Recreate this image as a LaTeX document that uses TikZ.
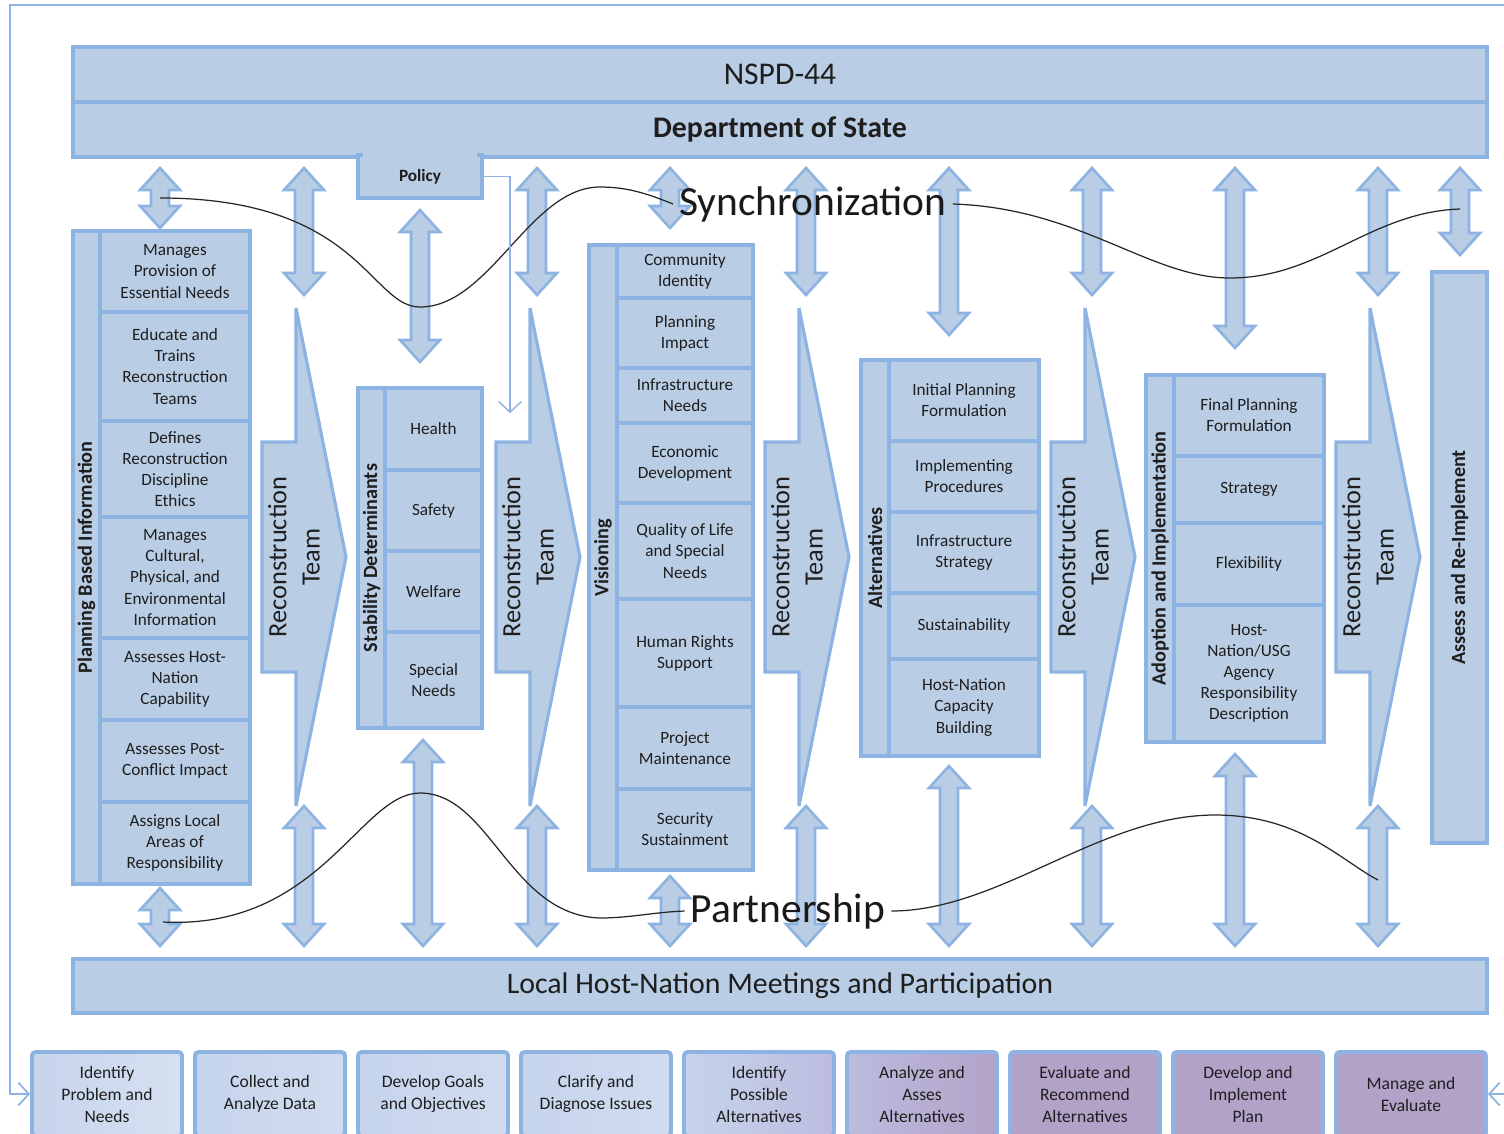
\documentclass[tikz,border=0pt]{standalone}
\usepackage{fontspec}
\setmainfont{Carlito}
\usetikzlibrary{arrows.meta}
\definecolor{ColLine}{RGB}{141,179,226}
\definecolor{ColFill}{RGB}{185,205,229}
\definecolor{ColText}{RGB}{30,30,30}
\definecolor{ColStepA}{RGB}{214,224,241}
\definecolor{ColStepB}{RGB}{198,212,236}
\definecolor{ColStepC}{RGB}{188,188,222}
\definecolor{ColStepD}{RGB}{179,162,200}
\newcommand{\px}{0.02cm}
\tikzstyle{Frame}=[draw=ColLine,fill=ColFill,line width=2.2pt,inner sep=1pt,align=center,text=ColText]
\tikzstyle{Cell}=[Frame,font=\fontsize{9.8}{12}\selectfont]
\tikzstyle{Strip}=[Frame,rotate=90,font=\bfseries\fontsize{11.5}{13}\selectfont]
\tikzstyle{PlanCell}=[Cell,minimum width=150*\px]
\tikzstyle{StabCell}=[Cell,minimum width=97*\px]
\tikzstyle{VisCell}=[Cell,minimum width=136*\px]
\tikzstyle{AltCell}=[Cell,minimum width=150*\px]
\tikzstyle{AdoptCell}=[Cell,minimum width=150*\px]
\tikzstyle{Banner}=[Frame,minimum width=1414*\px,minimum height=55*\px]
\tikzstyle{StepBox}=[draw=ColLine,line width=2.2pt,rounded corners=2pt,minimum width=150*\px,
minimum height=84*\px,align=center,text=ColText,font=\fontsize{10}{12.5}\selectfont]
\tikzstyle{DblArrow}=[draw=ColLine,fill=ColFill,line width=1.5pt]
\tikzstyle{TeamShape}=[draw=ColLine,fill=ColFill,line width=1.8pt]
\tikzstyle{TeamText}=[rotate=90,align=center,text=ColText,font=\fontsize{15}{19}\selectfont]
\tikzstyle{WaveLine}=[black!85,line width=0.7pt]
\tikzstyle{WaveText}=[text=black!90,font=\fontsize{23.6}{26}\selectfont]
\tikzstyle{LoopLine}=[ColLine,line width=1pt,-{Straight Barb[length=6pt,width=13pt]}]
\newcommand{\VArrow}[3]{\draw[DblArrow](#1,#2)--({#1+20},{#2+22})--({#1+9},{#2+22})--({#1+9},{#3-22})
  --({#1+20},{#3-22})--(#1,#3)--({#1-20},{#3-22})--({#1-9},{#3-22})--({#1-9},{#2+22})--({#1-20},{#2+22})--cycle;}
\newcommand{\TeamArrow}[2]{\draw[TeamShape](#1,442)--({#1+34},442)--({#1+34},308)--({#1+84},557)
  --({#1+34},806)--({#1+34},672)--(#1,672)--cycle;
  \node[TeamText](#2)at({#1+32},557){Reconstruction\\Team};}

\begin{document}
\begin{tikzpicture}[x=0.02cm,y=-0.02cm]
        \useasboundingbox(0,0)rectangle(1504,1133);
        \clip(0,0)rectangle(1504,1133);
        \coordinate(LoopTop)at(1504,5);
        \coordinate(LoopCorner)at(10,5);
        \coordinate(LoopLeft)at(10,1094);
        \coordinate(LoopRight)at(1504,1094);
        \coordinate(PolicyEnd)at(510,413);
        \coordinate(SyncStart)at(160,198);
        \coordinate(SyncEnd)at(1460,209);
        \coordinate(PartStart)at(163,922);
        \coordinate(PartEnd)at(1378,880);
        % top banners and policy tab
        \node[Banner,font=\fontsize{18}{22}\selectfont](nspd)at(780,74.5){NSPD-44};
        \node[Banner,font=\bfseries\fontsize{17}{20}\selectfont](dos)at(780,129.5){Department of State};
        \node[Frame,minimum width=124*\px,minimum height=43*\px,font=\bfseries\fontsize{9.8}{12}\selectfont](policy)at(420,176.5){Policy};
        \fill[ColFill](363,150)rectangle(477,160);
        % up/down arrows
        \VArrow{160}{168}{228}
        \VArrow{304}{168}{295}
        \VArrow{420}{210}{362}
        \VArrow{537}{168}{295}
        \VArrow{670}{168}{228}
        \VArrow{806}{168}{295}
        \VArrow{949}{168}{335}
        \VArrow{1092}{168}{295}
        \VArrow{1235}{168}{348}
        \VArrow{1378}{168}{295}
        \VArrow{1460}{168}{255}
        \VArrow{160}{888}{946}
        \VArrow{304}{806}{946}
        \VArrow{423}{740}{946}
        \VArrow{537}{806}{946}
        \VArrow{670}{876}{946}
        \VArrow{806}{806}{946}
        \VArrow{949}{766}{946}
        \VArrow{1092}{806}{946}
        \VArrow{1235}{754}{946}
        \VArrow{1378}{806}{946}
        % reconstruction team arrows
        \TeamArrow{262}{team1}
        \TeamArrow{496}{team2}
        \TeamArrow{765}{team3}
        \TeamArrow{1051}{team4}
        \TeamArrow{1336}{team5}
        % planning based information
        \node[Strip,minimum width=653*\px,minimum height=27*\px](planlab)at(86.5,557.5){Planning Based Information};
        \node[PlanCell,minimum height=81*\px](plan1)at(175,271.5){Manages\\Provision of\\Essential Needs};
        \node[PlanCell,minimum height=109*\px](plan2)at(175,366.5){Educate and\\Trains\\Reconstruction\\Teams};
        \node[PlanCell,minimum height=96*\px](plan3)at(175,469){Defines\\Reconstruction\\Discipline\\Ethics};
        \node[PlanCell,minimum height=121*\px](plan4)at(175,577.5){Manages\\Cultural,\\Physical, and\\Environmental\\Information};
        \node[PlanCell,minimum height=82*\px](plan5)at(175,679){Assesses Host-\\Nation\\Capability};
        \node[PlanCell,minimum height=82*\px](plan6)at(175,761){Assesses Post-\\Conflict Impact};
        \node[PlanCell,minimum height=82*\px](plan7)at(175,843){Assigns Local\\Areas of\\Responsibility};
        % stability determinants
        \node[Strip,minimum width=340*\px,minimum height=27*\px](stablab)at(371.5,558){Stability Determinants};
        \node[StabCell,minimum height=82*\px](stab1)at(433.5,429){Health};
        \node[StabCell,minimum height=81*\px](stab2)at(433.5,510.5){Safety};
        \node[StabCell,minimum height=81*\px](stab3)at(433.5,591.5){Welfare};
        \node[StabCell,minimum height=96*\px](stab4)at(433.5,680){Special\\Needs};
        % visioning
        \node[Strip,minimum width=625*\px,minimum height=28*\px](vislab)at(603,557.5){Visioning};
        \node[VisCell,minimum height=53*\px](vis1)at(685,271.5){Community\\Identity};
        \node[VisCell,minimum height=70*\px](vis2)at(685,333){Planning\\Impact};
        \node[VisCell,minimum height=55*\px](vis3)at(685,395.5){Infrastructure\\Needs};
        \node[VisCell,minimum height=80*\px](vis4)at(685,463){Economic\\Development};
        \node[VisCell,minimum height=96*\px](vis5)at(685,551){Quality of Life\\and Special\\Needs};
        \node[VisCell,minimum height=108*\px](vis6)at(685,653){Human Rights\\Support};
        \node[VisCell,minimum height=82*\px](vis7)at(685,748){Project\\Maintenance};
        \node[VisCell,minimum height=81*\px](vis8)at(685,829.5){Security\\Sustainment};
        % alternatives
        \node[Strip,minimum width=396*\px,minimum height=28*\px](altlab)at(875,558){Alternatives};
        \node[AltCell,minimum height=81*\px](alt1)at(964,400.5){Initial Planning\\Formulation};
        \node[AltCell,minimum height=71*\px](alt2)at(964,476.5){Implementing\\Procedures};
        \node[AltCell,minimum height=81*\px](alt3)at(964,552.5){Infrastructure\\Strategy};
        \node[AltCell,minimum height=66*\px](alt4)at(964,626){Sustainability};
        \node[AltCell,minimum height=97*\px](alt5)at(964,707.5){Host-Nation\\Capacity\\Building};
        % adoption and implementation
        \node[Strip,minimum width=367*\px,minimum height=28*\px](adoptlab)at(1160,558.5){Adoption and Implementation};
        \node[AdoptCell,minimum height=81*\px](adopt1)at(1249,415.5){Final Planning\\Formulation};
        \node[AdoptCell,minimum height=67*\px](adopt2)at(1249,489.5){Strategy};
        \node[AdoptCell,minimum height=82*\px](adopt3)at(1249,564){Flexibility};
        \node[AdoptCell,minimum height=137*\px](adopt4)at(1249,673.5){Host-\\Nation/USG\\Agency\\Responsibility\\Description};
        % assess column and bottom banner
        \node[Strip,minimum width=571*\px,minimum height=55*\px](assess)at(1459.5,557.5){Assess and Re-Implement};
        \node[Frame,minimum width=1414*\px,minimum height=54*\px,font=\fontsize{17}{20}\selectfont](local)at(780,986){Local Host-Nation Meetings and Participation};
        % process steps
        \node[StepBox,left color=ColStepB,right color=ColStepA](step1)at(107,1094){Identify\\Problem and\\Needs};
        \node[StepBox,left color=ColStepB,right color=ColStepA!60!ColStepB](step2)at(270,1094){Collect and\\Analyze Data};
        \node[StepBox,left color=ColStepB,right color=ColStepA!60!ColStepB](step3)at(433,1094){Develop Goals\\and Objectives};
        \node[StepBox,left color=ColStepB,right color=ColStepA!60!ColStepB](step4)at(596,1094){Clarify and\\Diagnose Issues};
        \node[StepBox,left color=ColStepB,right color=ColStepC](step5)at(759,1094){Identify\\Possible\\Alternatives};
        \node[StepBox,left color=ColStepC,right color=ColStepD](step6)at(922,1094){Analyze and\\Asses\\Alternatives};
        \node[StepBox,fill=ColStepD](step7)at(1085,1094){Evaluate and\\Recommend\\Alternatives};
        \node[StepBox,fill=ColStepD](step8)at(1248,1094){Develop and\\Implement\\Plan};
        \node[StepBox,fill=ColStepD](step9)at(1411,1094){Manage and\\Evaluate};
        % waves
        \node[WaveText](sync)at(813,204){Synchronization};
        \node[WaveText](part)at(788,911){Partnership};
        \draw[WaveLine](SyncStart) .. controls (360,198) and (370,307) .. (420,307)
            .. controls (490,307) and (530,187) .. (600,187) .. controls (630,187) and (650,195) .. (sync.west);
        \draw[WaveLine](sync.east) .. controls (1080,208) and (1150,278) .. (1230,278)
            .. controls (1320,278) and (1370,212) .. (SyncEnd);
        \draw[WaveLine](PartStart) .. controls (320,930) and (360,793) .. (420,793)
            .. controls (490,793) and (510,915) .. (600,918) .. controls (630,918) and (655,912) .. (part.west);
        \draw[WaveLine](part.east) .. controls (1000,911) and (1100,815) .. (1215,815)
            .. controls (1300,815) and (1340,860) .. (PartEnd);
        % feedback loop and policy link
        \draw[LoopLine,line width=0.8pt](policy.east)--(510,176.5)--(PolicyEnd);
        \draw[LoopLine](LoopTop)--(LoopCorner)--(LoopLeft)--(step1.west);
        \draw[LoopLine](LoopRight)--(step9.east);
    \end{tikzpicture}
\end{document}
